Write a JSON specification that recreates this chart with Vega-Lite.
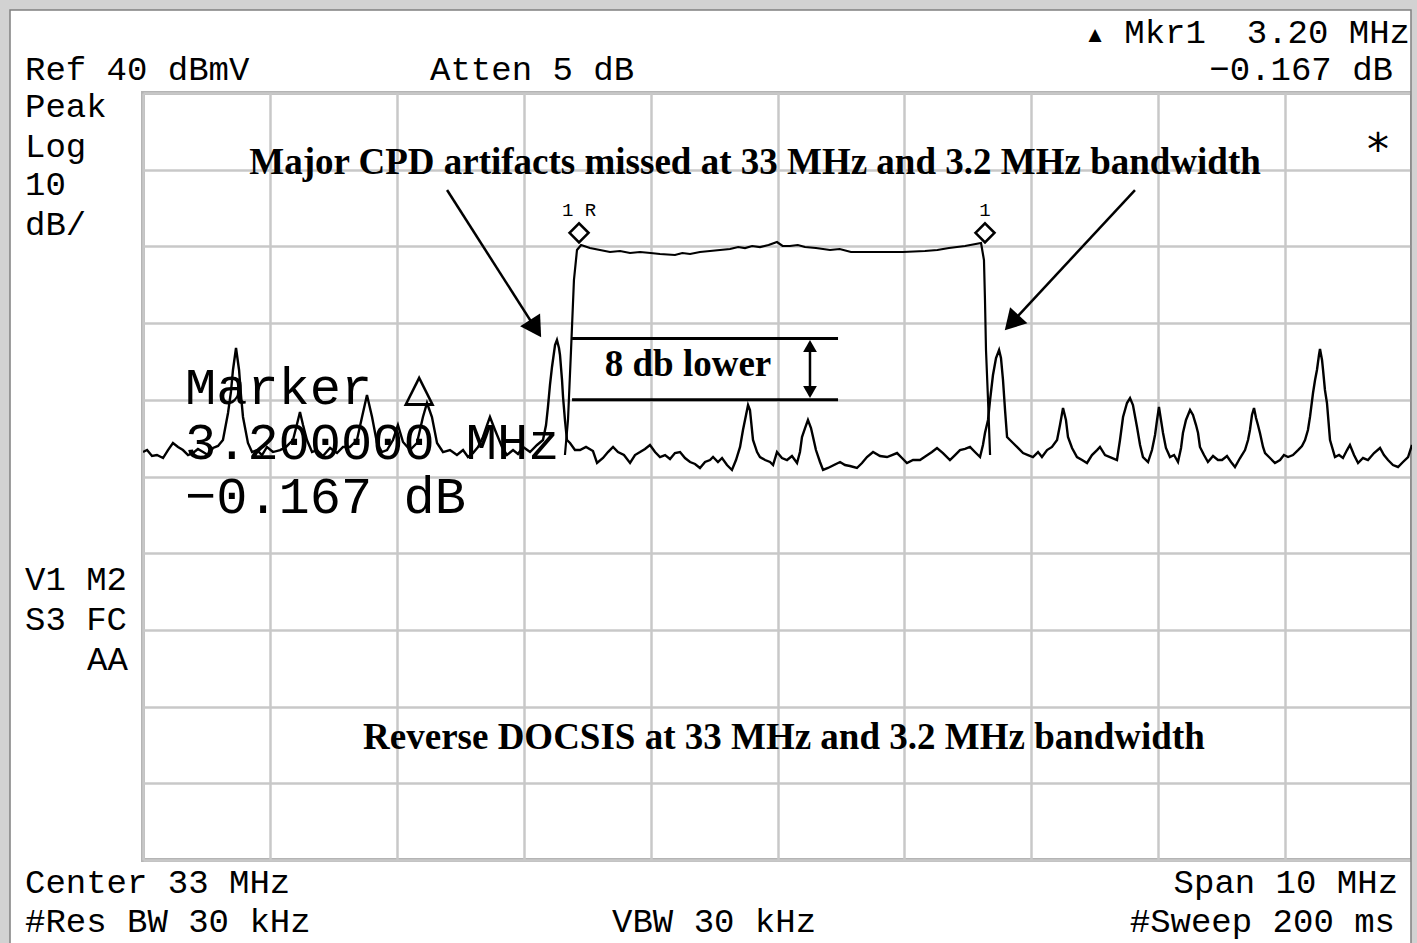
{
  "$schema": "https://vega.github.io/schema/vega-lite/v6.json",
  "width": 1269,
  "height": 767,
  "autosize": {"type": "none"},
  "padding": {"left": 143, "top": 93, "right": 5, "bottom": 83},
  "background": "white",
  "config": {
    "view": {"stroke": "#b4b4b4", "strokeWidth": 4},
    "axis": {"labels": false, "ticks": false, "domain": false, "titleOpacity": 0, "grid": true, "gridColor": "#c8c8c8", "gridWidth": 2.5, "tickCount": 10}
  },
  "datasets": {
    "noise": [
      {"mhz":28.000,"dbmv":-6.81},{"mhz":28.032,"dbmv":-6.55},{"mhz":28.071,"dbmv":-7.33},{"mhz":28.110,"dbmv":-7.20},{"mhz":28.158,"dbmv":-7.59},{"mhz":28.197,"dbmv":-6.55},{"mhz":28.236,"dbmv":-5.63},{"mhz":28.276,"dbmv":-6.15},{"mhz":28.315,"dbmv":-6.55},{"mhz":28.355,"dbmv":-7.20},{"mhz":28.394,"dbmv":-6.94},{"mhz":28.433,"dbmv":-6.41},{"mhz":28.473,"dbmv":-6.81},{"mhz":28.512,"dbmv":-7.20},{"mhz":28.552,"dbmv":-6.28},{"mhz":28.591,"dbmv":-6.02},{"mhz":28.630,"dbmv":-5.24},{"mhz":28.670,"dbmv":-1.72},{"mhz":28.693,"dbmv":1.02},{"mhz":28.709,"dbmv":3.89},{"mhz":28.733,"dbmv":6.75},{"mhz":28.757,"dbmv":3.89},{"mhz":28.772,"dbmv":0.63},{"mhz":28.788,"dbmv":-2.24},{"mhz":28.827,"dbmv":-5.63},{"mhz":28.859,"dbmv":-6.81},{"mhz":28.898,"dbmv":-6.55},{"mhz":28.938,"dbmv":-7.20},{"mhz":28.977,"dbmv":-6.15},{"mhz":29.024,"dbmv":-6.81},{"mhz":29.080,"dbmv":-6.55},{"mhz":29.127,"dbmv":-6.15},{"mhz":29.182,"dbmv":-5.24},{"mhz":29.206,"dbmv":-3.68},{"mhz":29.237,"dbmv":-1.59},{"mhz":29.261,"dbmv":-3.29},{"mhz":29.292,"dbmv":-5.24},{"mhz":29.332,"dbmv":-6.81},{"mhz":29.371,"dbmv":-6.55},{"mhz":29.418,"dbmv":-7.33},{"mhz":29.474,"dbmv":-6.28},{"mhz":29.529,"dbmv":-6.94},{"mhz":29.576,"dbmv":-6.15},{"mhz":29.631,"dbmv":-6.15},{"mhz":29.686,"dbmv":-5.24},{"mhz":29.726,"dbmv":-2.24},{"mhz":29.765,"dbmv":0.63},{"mhz":29.805,"dbmv":-2.24},{"mhz":29.844,"dbmv":-5.63},{"mhz":29.883,"dbmv":-6.81},{"mhz":29.923,"dbmv":-6.55},{"mhz":29.970,"dbmv":-5.24},{"mhz":30.009,"dbmv":-3.29},{"mhz":30.049,"dbmv":-5.50},{"mhz":30.104,"dbmv":-6.55},{"mhz":30.159,"dbmv":-5.63},{"mhz":30.206,"dbmv":-2.24},{"mhz":30.238,"dbmv":-0.42},{"mhz":30.277,"dbmv":-2.24},{"mhz":30.317,"dbmv":-5.63},{"mhz":30.364,"dbmv":-6.81},{"mhz":30.419,"dbmv":-6.55},{"mhz":30.474,"dbmv":-7.20},{"mhz":30.522,"dbmv":-6.55},{"mhz":30.561,"dbmv":-7.46},{"mhz":30.600,"dbmv":-6.94},{"mhz":30.640,"dbmv":-6.15},{"mhz":30.679,"dbmv":-4.85},{"mhz":30.711,"dbmv":-3.29},{"mhz":30.734,"dbmv":-2.24},{"mhz":30.774,"dbmv":-3.94},{"mhz":30.829,"dbmv":-6.15},{"mhz":30.868,"dbmv":-7.20},{"mhz":30.916,"dbmv":-6.55},{"mhz":30.955,"dbmv":-7.07},{"mhz":30.995,"dbmv":-6.15},{"mhz":31.050,"dbmv":-6.81},{"mhz":31.105,"dbmv":-5.89},{"mhz":31.152,"dbmv":-5.24},{"mhz":31.176,"dbmv":-3.29},{"mhz":31.191,"dbmv":-0.94},{"mhz":31.207,"dbmv":1.93},{"mhz":31.223,"dbmv":4.28},{"mhz":31.247,"dbmv":7.14},{"mhz":31.262,"dbmv":7.80},{"mhz":31.278,"dbmv":6.75},{"mhz":31.286,"dbmv":5.84},{"mhz":31.302,"dbmv":2.58},{"mhz":31.310,"dbmv":0.36},{"mhz":31.325,"dbmv":-2.63},{"mhz":31.341,"dbmv":-5.24},{"mhz":31.365,"dbmv":-5.63},{"mhz":31.404,"dbmv":-6.55},{"mhz":31.444,"dbmv":-6.55},{"mhz":31.491,"dbmv":-6.15},{"mhz":31.546,"dbmv":-6.68},{"mhz":31.578,"dbmv":-8.24},{"mhz":31.625,"dbmv":-7.59},{"mhz":31.664,"dbmv":-6.81},{"mhz":31.704,"dbmv":-6.15},{"mhz":31.743,"dbmv":-6.81},{"mhz":31.790,"dbmv":-7.20},{"mhz":31.838,"dbmv":-8.24},{"mhz":31.877,"dbmv":-7.20},{"mhz":31.917,"dbmv":-6.81},{"mhz":31.956,"dbmv":-6.41},{"mhz":31.995,"dbmv":-5.89},{"mhz":32.035,"dbmv":-6.81},{"mhz":32.074,"dbmv":-7.46},{"mhz":32.114,"dbmv":-7.20},{"mhz":32.153,"dbmv":-7.72},{"mhz":32.192,"dbmv":-6.94},{"mhz":32.232,"dbmv":-6.81},{"mhz":32.271,"dbmv":-7.59},{"mhz":32.311,"dbmv":-8.11},{"mhz":32.350,"dbmv":-8.37},{"mhz":32.389,"dbmv":-8.89},{"mhz":32.429,"dbmv":-8.11},{"mhz":32.468,"dbmv":-7.85},{"mhz":32.492,"dbmv":-7.46},{"mhz":32.531,"dbmv":-8.11},{"mhz":32.563,"dbmv":-7.59},{"mhz":32.602,"dbmv":-8.50},{"mhz":32.641,"dbmv":-9.15},{"mhz":32.673,"dbmv":-7.85},{"mhz":32.705,"dbmv":-6.15},{"mhz":32.728,"dbmv":-3.94},{"mhz":32.752,"dbmv":-1.98},{"mhz":32.768,"dbmv":-0.68},{"mhz":32.783,"dbmv":-1.33},{"mhz":32.807,"dbmv":-5.24},{"mhz":32.839,"dbmv":-6.81},{"mhz":32.862,"dbmv":-7.46},{"mhz":32.902,"dbmv":-7.85},{"mhz":32.941,"dbmv":-8.11},{"mhz":32.965,"dbmv":-8.50},{"mhz":32.996,"dbmv":-6.81},{"mhz":33.035,"dbmv":-7.59},{"mhz":33.075,"dbmv":-7.85},{"mhz":33.114,"dbmv":-7.33},{"mhz":33.154,"dbmv":-8.24},{"mhz":33.177,"dbmv":-6.81},{"mhz":33.193,"dbmv":-4.85},{"mhz":33.217,"dbmv":-3.68},{"mhz":33.240,"dbmv":-2.63},{"mhz":33.264,"dbmv":-3.68},{"mhz":33.280,"dbmv":-4.85},{"mhz":33.303,"dbmv":-6.55},{"mhz":33.335,"dbmv":-8.11},{"mhz":33.359,"dbmv":-9.15},{"mhz":33.398,"dbmv":-8.89},{"mhz":33.445,"dbmv":-8.50},{"mhz":33.493,"dbmv":-8.11},{"mhz":33.532,"dbmv":-8.50},{"mhz":33.571,"dbmv":-8.63},{"mhz":33.626,"dbmv":-8.89},{"mhz":33.666,"dbmv":-8.24},{"mhz":33.705,"dbmv":-7.46},{"mhz":33.753,"dbmv":-6.81},{"mhz":33.808,"dbmv":-7.33},{"mhz":33.863,"dbmv":-7.46},{"mhz":33.902,"dbmv":-7.20},{"mhz":33.942,"dbmv":-6.94},{"mhz":33.981,"dbmv":-7.59},{"mhz":34.020,"dbmv":-8.24},{"mhz":34.068,"dbmv":-7.85},{"mhz":34.123,"dbmv":-7.85},{"mhz":34.170,"dbmv":-7.33},{"mhz":34.217,"dbmv":-6.81},{"mhz":34.257,"dbmv":-6.28},{"mhz":34.304,"dbmv":-6.94},{"mhz":34.359,"dbmv":-7.85},{"mhz":34.399,"dbmv":-7.20},{"mhz":34.438,"dbmv":-6.55},{"mhz":34.478,"dbmv":-6.41},{"mhz":34.517,"dbmv":-6.15},{"mhz":34.556,"dbmv":-6.81},{"mhz":34.596,"dbmv":-7.46},{"mhz":34.619,"dbmv":-5.89},{"mhz":34.635,"dbmv":-4.33},{"mhz":34.659,"dbmv":-2.63},{"mhz":34.675,"dbmv":-0.03},{"mhz":34.698,"dbmv":3.23},{"mhz":34.722,"dbmv":5.45},{"mhz":34.746,"dbmv":6.49},{"mhz":34.761,"dbmv":5.45},{"mhz":34.777,"dbmv":2.58},{"mhz":34.793,"dbmv":-1.33},{"mhz":34.809,"dbmv":-4.85},{"mhz":34.832,"dbmv":-5.24},{"mhz":34.856,"dbmv":-5.63},{"mhz":34.895,"dbmv":-6.28},{"mhz":34.935,"dbmv":-6.94},{"mhz":34.974,"dbmv":-7.20},{"mhz":35.013,"dbmv":-7.46},{"mhz":35.053,"dbmv":-6.81},{"mhz":35.084,"dbmv":-7.46},{"mhz":35.124,"dbmv":-6.55},{"mhz":35.163,"dbmv":-6.15},{"mhz":35.203,"dbmv":-5.24},{"mhz":35.226,"dbmv":-3.29},{"mhz":35.250,"dbmv":-1.07},{"mhz":35.273,"dbmv":-2.63},{"mhz":35.289,"dbmv":-4.85},{"mhz":35.321,"dbmv":-6.28},{"mhz":35.360,"dbmv":-7.46},{"mhz":35.400,"dbmv":-7.85},{"mhz":35.439,"dbmv":-8.24},{"mhz":35.478,"dbmv":-7.20},{"mhz":35.518,"dbmv":-6.55},{"mhz":35.541,"dbmv":-6.15},{"mhz":35.581,"dbmv":-7.20},{"mhz":35.620,"dbmv":-7.46},{"mhz":35.675,"dbmv":-7.85},{"mhz":35.699,"dbmv":-5.24},{"mhz":35.723,"dbmv":-2.24},{"mhz":35.754,"dbmv":-0.42},{"mhz":35.778,"dbmv":0.23},{"mhz":35.801,"dbmv":-0.68},{"mhz":35.833,"dbmv":-3.55},{"mhz":35.857,"dbmv":-5.89},{"mhz":35.880,"dbmv":-7.46},{"mhz":35.920,"dbmv":-8.11},{"mhz":35.951,"dbmv":-6.55},{"mhz":35.975,"dbmv":-4.59},{"mhz":35.991,"dbmv":-2.63},{"mhz":36.006,"dbmv":-0.94},{"mhz":36.022,"dbmv":-2.63},{"mhz":36.038,"dbmv":-4.33},{"mhz":36.061,"dbmv":-6.28},{"mhz":36.093,"dbmv":-7.46},{"mhz":36.125,"dbmv":-7.20},{"mhz":36.156,"dbmv":-8.11},{"mhz":36.180,"dbmv":-6.28},{"mhz":36.195,"dbmv":-4.33},{"mhz":36.219,"dbmv":-2.63},{"mhz":36.251,"dbmv":-1.33},{"mhz":36.274,"dbmv":-1.98},{"mhz":36.298,"dbmv":-3.29},{"mhz":36.314,"dbmv":-4.33},{"mhz":36.329,"dbmv":-6.15},{"mhz":36.361,"dbmv":-7.20},{"mhz":36.392,"dbmv":-8.11},{"mhz":36.432,"dbmv":-7.33},{"mhz":36.471,"dbmv":-7.85},{"mhz":36.503,"dbmv":-7.85},{"mhz":36.542,"dbmv":-7.33},{"mhz":36.574,"dbmv":-8.11},{"mhz":36.605,"dbmv":-8.76},{"mhz":36.645,"dbmv":-7.59},{"mhz":36.684,"dbmv":-6.55},{"mhz":36.708,"dbmv":-5.24},{"mhz":36.723,"dbmv":-3.94},{"mhz":36.739,"dbmv":-1.98},{"mhz":36.755,"dbmv":-1.07},{"mhz":36.771,"dbmv":-2.37},{"mhz":36.786,"dbmv":-3.29},{"mhz":36.802,"dbmv":-4.33},{"mhz":36.826,"dbmv":-6.15},{"mhz":36.842,"dbmv":-6.94},{"mhz":36.881,"dbmv":-7.59},{"mhz":36.920,"dbmv":-8.24},{"mhz":36.960,"dbmv":-7.85},{"mhz":36.991,"dbmv":-7.20},{"mhz":37.023,"dbmv":-7.46},{"mhz":37.062,"dbmv":-7.20},{"mhz":37.102,"dbmv":-6.55},{"mhz":37.133,"dbmv":-6.02},{"mhz":37.157,"dbmv":-5.24},{"mhz":37.180,"dbmv":-3.94},{"mhz":37.196,"dbmv":-2.24},{"mhz":37.220,"dbmv":0.89},{"mhz":37.236,"dbmv":2.58},{"mhz":37.251,"dbmv":3.89},{"mhz":37.267,"dbmv":5.84},{"mhz":37.275,"dbmv":6.62},{"mhz":37.291,"dbmv":5.19},{"mhz":37.299,"dbmv":3.89},{"mhz":37.314,"dbmv":1.28},{"mhz":37.330,"dbmv":-0.42},{"mhz":37.354,"dbmv":-5.24},{"mhz":37.393,"dbmv":-7.46},{"mhz":37.425,"dbmv":-7.20},{"mhz":37.456,"dbmv":-7.59},{"mhz":37.488,"dbmv":-6.55},{"mhz":37.511,"dbmv":-5.89},{"mhz":37.543,"dbmv":-7.20},{"mhz":37.575,"dbmv":-8.24},{"mhz":37.614,"dbmv":-7.59},{"mhz":37.653,"dbmv":-7.85},{"mhz":37.701,"dbmv":-6.94},{"mhz":37.748,"dbmv":-6.28},{"mhz":37.779,"dbmv":-7.20},{"mhz":37.811,"dbmv":-7.85},{"mhz":37.850,"dbmv":-8.50},{"mhz":37.890,"dbmv":-8.76},{"mhz":37.929,"dbmv":-8.11},{"mhz":37.969,"dbmv":-7.46},{"mhz":38.000,"dbmv":-5.89}
    ],
    "channel": [
      {"mhz":31.325,"dbmv":-7.20},{"mhz":31.349,"dbmv":-2.63},{"mhz":31.373,"dbmv":6.49},{"mhz":31.396,"dbmv":15.62},{"mhz":31.420,"dbmv":19.53},{"mhz":31.452,"dbmv":20.18},{"mhz":31.522,"dbmv":19.79},{"mhz":31.601,"dbmv":19.53},{"mhz":31.680,"dbmv":19.27},{"mhz":31.759,"dbmv":19.40},{"mhz":31.838,"dbmv":19.14},{"mhz":31.917,"dbmv":19.27},{"mhz":32.000,"dbmv":19.14},{"mhz":32.074,"dbmv":19.01},{"mhz":32.192,"dbmv":18.88},{"mhz":32.250,"dbmv":19.14},{"mhz":32.311,"dbmv":19.01},{"mhz":32.389,"dbmv":19.27},{"mhz":32.468,"dbmv":19.40},{"mhz":32.547,"dbmv":19.53},{"mhz":32.626,"dbmv":19.66},{"mhz":32.690,"dbmv":19.92},{"mhz":32.744,"dbmv":19.79},{"mhz":32.800,"dbmv":20.05},{"mhz":32.862,"dbmv":19.92},{"mhz":32.930,"dbmv":20.18},{"mhz":32.996,"dbmv":20.57},{"mhz":33.040,"dbmv":20.05},{"mhz":33.098,"dbmv":20.05},{"mhz":33.160,"dbmv":20.18},{"mhz":33.217,"dbmv":19.92},{"mhz":33.303,"dbmv":19.79},{"mhz":33.414,"dbmv":19.53},{"mhz":33.490,"dbmv":19.66},{"mhz":33.579,"dbmv":19.27},{"mhz":33.729,"dbmv":19.27},{"mhz":33.989,"dbmv":19.27},{"mhz":34.162,"dbmv":19.40},{"mhz":34.260,"dbmv":19.53},{"mhz":34.351,"dbmv":19.79},{"mhz":34.478,"dbmv":20.05},{"mhz":34.604,"dbmv":20.44},{"mhz":34.627,"dbmv":18.22},{"mhz":34.635,"dbmv":13.01},{"mhz":34.643,"dbmv":6.49},{"mhz":34.659,"dbmv":-0.03},{"mhz":34.675,"dbmv":-7.20}
    ],
    "markers": [
      {"mhz":31.436,"dbmv":20.2,"label":"1\u00a0R"},
      {"mhz":34.635,"dbmv":20.2,"label":"1"}
    ],
    "arrows": [
      {"mhz":30.396,"dbmv":27.35,"mhz2":31.094,"dbmv2":9.28},
      {"mhz":35.817,"dbmv":27.35,"mhz2":34.846,"dbmv2":10.05}
    ],
    "bracket": [
      {"mhz":31.381,"mhz2":33.477,"dbmv":8},
      {"mhz":31.381,"mhz2":33.477,"dbmv":0}
    ],
    "textLeft": [
      {"mhz":27.070,"dbmv":43.0,"text":"Ref 40 dBmV"},
      {"mhz":30.262,"dbmv":43.0,"text":"Atten 5 dB"},
      {"mhz":27.070,"dbmv":38.17,"text":"Peak"},
      {"mhz":27.070,"dbmv":32.96,"text":"Log"},
      {"mhz":27.070,"dbmv":28.0,"text":"10"},
      {"mhz":27.070,"dbmv":22.79,"text":"dB/"},
      {"mhz":27.070,"dbmv":-23.49,"text":"V1 M2"},
      {"mhz":27.070,"dbmv":-28.71,"text":"S3 FC"},
      {"mhz":27.559,"dbmv":-33.93,"text":"AA"},
      {"mhz":27.070,"dbmv":-63.0,"text":"Center 33 MHz"},
      {"mhz":27.070,"dbmv":-68.09,"text":"#Res BW 30 kHz"},
      {"mhz":31.696,"dbmv":-68.09,"text":"VBW 30 kHz"}
    ],
    "textRight": [
      {"mhz":37.984,"dbmv":47.82,"text":"Mkr1\u00a0\u00a03.20 MHz"},
      {"mhz":37.850,"dbmv":43.0,"text":"\u22120.167 dB"},
      {"mhz":37.890,"dbmv":-63.0,"text":"Span 10 MHz"},
      {"mhz":37.866,"dbmv":-68.09,"text":"#Sweep 200 ms"}
    ],
    "textBig": [
      {"mhz":28.331,"dbmv":1.54,"text":"Marker \u25b3"},
      {"mhz":28.331,"dbmv":-5.63,"text":"3.200000 MHz"},
      {"mhz":28.331,"dbmv":-12.67,"text":"\u22120.167 dB"}
    ],
    "textSerif": [
      {"mhz":32.823,"dbmv":30.87,"text":"Major CPD artifacts missed at 33 MHz and 3.2 MHz bandwidth"},
      {"mhz":32.295,"dbmv":4.54,"text":"8 db lower"},
      {"mhz":33.051,"dbmv":-44.09,"text":"Reverse DOCSIS at 33 MHz and 3.2 MHz bandwidth"}
    ]
  },
  "layer": [
    {
      "data": {"values": [{}]},
      "mark": {"type": "rect", "fill": null, "fillOpacity": 0, "stroke": "#d2d2d2", "strokeWidth": 14},
      "encoding": {
        "x": {"datum": 26.897, "type": "quantitative", "scale": {"domain": [28, 38], "nice": false, "zero": false}},
        "x2": {"datum": 38.047},
        "y": {"datum": 51.73, "type": "quantitative", "scale": {"domain": [-60, 40], "nice": false, "zero": false}},
        "y2": {"datum": -73.04}
      }
    },
    {
      "data": {"values": [{}]},
      "mark": {"type": "rect", "fill": null, "fillOpacity": 0, "stroke": "#808080", "strokeWidth": 1.5},
      "encoding": {
        "x": {"datum": 26.952, "type": "quantitative"},
        "x2": {"datum": 37.992},
        "y": {"datum": 50.82, "type": "quantitative"},
        "y2": {"datum": -73.04}
      }
    },
    {
      "data": {"name": "noise"},
      "mark": {"type": "line", "color": "black", "strokeWidth": 2.4, "clip": true},
      "encoding": {
        "x": {"field": "mhz", "type": "quantitative"},
        "y": {"field": "dbmv", "type": "quantitative"}
      }
    },
    {
      "data": {"name": "channel"},
      "mark": {"type": "line", "color": "black", "strokeWidth": 2.2},
      "encoding": {
        "x": {"field": "mhz", "type": "quantitative"},
        "y": {"field": "dbmv", "type": "quantitative"}
      }
    },
    {
      "data": {"name": "markers"},
      "mark": {"type": "point", "shape": "diamond", "filled": true, "fill": "white", "stroke": "black", "strokeWidth": 2.6, "size": 360, "yOffset": -12, "opacity": 1},
      "encoding": {
        "x": {"field": "mhz", "type": "quantitative"},
        "y": {"field": "dbmv", "type": "quantitative"}
      }
    },
    {
      "data": {"name": "markers"},
      "mark": {"type": "text", "font": "Liberation Mono", "fontSize": 19, "color": "black", "align": "center", "baseline": "middle", "dy": -35},
      "encoding": {
        "x": {"field": "mhz", "type": "quantitative"},
        "y": {"field": "dbmv", "type": "quantitative"},
        "text": {"field": "label"}
      }
    },
    {
      "data": {"name": "arrows"},
      "mark": {"type": "rule", "color": "black", "strokeWidth": 2.5},
      "encoding": {
        "x": {"field": "mhz", "type": "quantitative"},
        "y": {"field": "dbmv", "type": "quantitative"},
        "x2": {"field": "mhz2"},
        "y2": {"field": "dbmv2"}
      }
    },
    {
      "data": {"values": [{"mhz": 31.094, "dbmv": 9.28}]},
      "mark": {"type": "point", "shape": "triangle-up", "filled": true, "color": "black", "size": 560, "angle": 147.4, "opacity": 1},
      "encoding": {
        "x": {"field": "mhz", "type": "quantitative"},
        "y": {"field": "dbmv", "type": "quantitative"}
      }
    },
    {
      "data": {"values": [{"mhz": 34.846, "dbmv": 10.05}]},
      "mark": {"type": "point", "shape": "triangle-up", "filled": true, "color": "black", "size": 560, "angle": 222.9, "opacity": 1},
      "encoding": {
        "x": {"field": "mhz", "type": "quantitative"},
        "y": {"field": "dbmv", "type": "quantitative"}
      }
    },
    {
      "data": {"name": "bracket"},
      "mark": {"type": "rule", "color": "black", "strokeWidth": 3},
      "encoding": {
        "x": {"field": "mhz", "type": "quantitative"},
        "x2": {"field": "mhz2"},
        "y": {"field": "dbmv", "type": "quantitative"}
      }
    },
    {
      "data": {"values": [{"mhz": 33.256, "dbmv": 0.6, "dbmv2": 7.4}]},
      "mark": {"type": "rule", "color": "black", "strokeWidth": 2.5},
      "encoding": {
        "x": {"field": "mhz", "type": "quantitative"},
        "y": {"field": "dbmv", "type": "quantitative"},
        "y2": {"field": "dbmv2"}
      }
    },
    {
      "data": {"values": [{"mhz": 33.256, "dbmv": 7.01}]},
      "mark": {"type": "point", "shape": "triangle-up", "filled": true, "color": "black", "size": 190, "opacity": 1},
      "encoding": {
        "x": {"field": "mhz", "type": "quantitative"},
        "y": {"field": "dbmv", "type": "quantitative"}
      }
    },
    {
      "data": {"values": [{"mhz": 33.256, "dbmv": 1.02}]},
      "mark": {"type": "point", "shape": "triangle-down", "filled": true, "color": "black", "size": 190, "opacity": 1},
      "encoding": {
        "x": {"field": "mhz", "type": "quantitative"},
        "y": {"field": "dbmv", "type": "quantitative"}
      }
    },
    {
      "data": {"name": "textLeft"},
      "mark": {"type": "text", "font": "Liberation Mono, DejaVu Sans Mono", "fontSize": 34, "color": "black", "align": "left", "baseline": "middle"},
      "encoding": {
        "x": {"field": "mhz", "type": "quantitative"},
        "y": {"field": "dbmv", "type": "quantitative"},
        "text": {"field": "text"}
      }
    },
    {
      "data": {"name": "textRight"},
      "mark": {"type": "text", "font": "Liberation Mono, DejaVu Sans Mono", "fontSize": 34, "color": "black", "align": "right", "baseline": "middle"},
      "encoding": {
        "x": {"field": "mhz", "type": "quantitative"},
        "y": {"field": "dbmv", "type": "quantitative"},
        "text": {"field": "text"}
      }
    },
    {
      "data": {"values": [{"mhz": 37.732, "dbmv": 32.3, "text": "*"}]},
      "mark": {"type": "text", "font": "DejaVu Sans Mono", "fontSize": 44, "color": "black", "align": "center", "baseline": "middle"},
      "encoding": {
        "x": {"field": "mhz", "type": "quantitative"},
        "y": {"field": "dbmv", "type": "quantitative"},
        "text": {"field": "text"}
      }
    },
    {
      "data": {"values": [{"mhz": 35.502, "dbmv": 47.56, "text": "\u25b2"}]},
      "mark": {"type": "text", "font": "DejaVu Sans", "fontSize": 17, "color": "black", "align": "center", "baseline": "middle"},
      "encoding": {
        "x": {"field": "mhz", "type": "quantitative"},
        "y": {"field": "dbmv", "type": "quantitative"},
        "text": {"field": "text"}
      }
    },
    {
      "data": {"name": "textBig"},
      "mark": {"type": "text", "font": "Liberation Mono, DejaVu Sans Mono", "fontSize": 52, "color": "black", "align": "left", "baseline": "middle"},
      "encoding": {
        "x": {"field": "mhz", "type": "quantitative"},
        "y": {"field": "dbmv", "type": "quantitative"},
        "text": {"field": "text"}
      }
    },
    {
      "data": {"name": "textSerif"},
      "mark": {"type": "text", "font": "Liberation Serif", "fontWeight": "bold", "fontSize": 37, "color": "black", "align": "center", "baseline": "middle"},
      "encoding": {
        "x": {"field": "mhz", "type": "quantitative"},
        "y": {"field": "dbmv", "type": "quantitative"},
        "text": {"field": "text"}
      }
    }
  ]
}
